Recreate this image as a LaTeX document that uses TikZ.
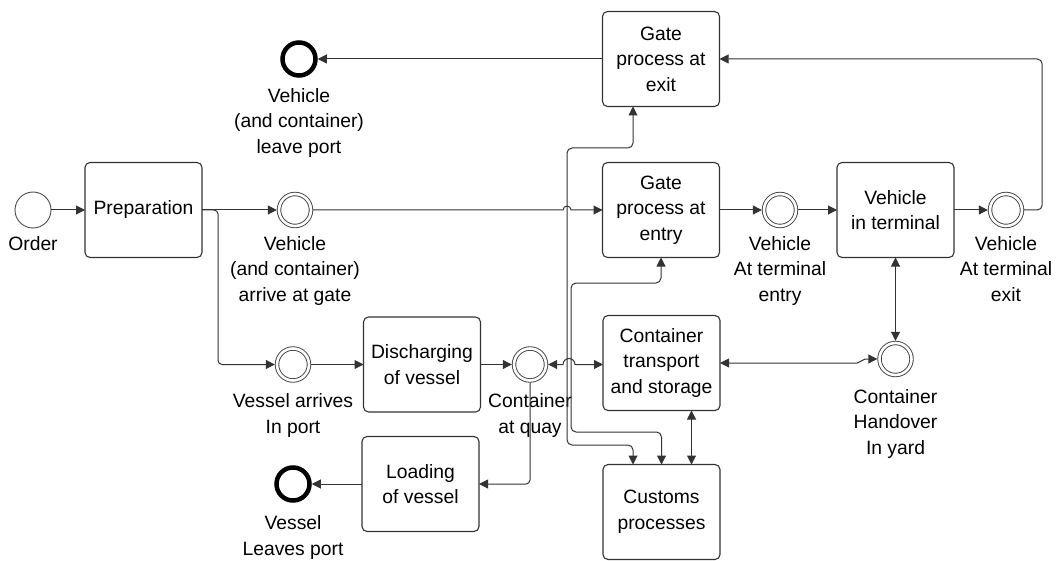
\documentclass[tikz,border=0pt]{standalone}
\usepackage{fontspec}
\setmainfont{Liberation Sans}
\usetikzlibrary{arrows.meta,calc}
\begin{document}
\begin{tikzpicture}[x=1pt,y=-1pt,
  txt/.style={font=\fontsize{19.3}{25.5}\selectfont, align=center, text=black},
  task/.style={txt, draw=black!80, line width=1.1pt, rounded corners=5pt, minimum width=117pt, minimum height=95pt, inner sep=0pt, outer sep=0pt},
  startev/.style={circle, draw=black!70, line width=0.9pt, minimum size=36pt, inner sep=0pt, outer sep=0.45pt},
  midev/.style={circle, draw=black!75, line width=0.9pt, double=white, double distance=2.6pt, minimum size=32pt, inner sep=0pt, outer sep=2.2pt},
  endev/.style={circle, draw=black, line width=4.5pt, minimum size=33pt, inner sep=0pt, outer sep=2.25pt},
  lbl/.style={txt, inner sep=0pt},
  tip/.tip={Triangle[length=9pt,width=9pt]},
  flow/.style={draw=black!80, line width=1pt, -tip},
  bflow/.style={draw=black!80, line width=1pt, tip-tip},
]
\useasboundingbox (0,0) rectangle (1056,561);

% tasks
\node[task] (prep)    at (143.5,210) {Preparation};
\node[task] (gexit)   at (661,59)    {Gate\\process at\\exit};
\node[task] (gentry)  at (661,210)   {Gate\\process at\\entry};
\node[task] (vterm)   at (895.5,210) {Vehicle\\in terminal};
\node[task] (disch)   at (422,364.5) {Discharging\\of vessel};
\node[task] (load)    at (420.5,484) {Loading\\of vessel};
\node[task] (trans)   at (661.5,363) {Container\\transport\\and storage};
\node[task] (customs) at (661.5,512) {Customs\\processes};

% events
\node[startev, label={[lbl,label distance=7.5pt]below:Order}] (order) at (33,210) {};
\node[midev, label={[lbl,label distance=7.8pt]below:Vehicle\\(and container)\\arrive at gate}] (veharr) at (295,210) {};
\node[midev, label={[lbl,label distance=10.8pt]below:Vessel arrives\\In port}] (vesarr) at (293,364.5) {};
\node[midev, label={[lbl,label distance=10.8pt]below:Container\\at quay}] (quay) at (530,364.5) {};
\node[midev, label={[lbl,label distance=7.8pt]below:Vehicle\\At terminal\\entry}] (ventry) at (780,210) {};
\node[midev, label={[lbl,label distance=7.8pt]below:Vehicle\\At terminal\\exit}] (vexit) at (1006,210) {};
\node[midev, label={[lbl,label distance=11.8pt]below:Container\\Handover\\In yard}] (handover) at (895.5,359) {};
\node[endev, label={[lbl,label distance=10.2pt]below:Vehicle\\(and container)\\leave port}] (vleave) at (299,59) {};
\node[endev, label={[lbl,label distance=13pt]below:Vessel\\Leaves port}] (vleaves) at (293,484) {};

% waypoints of the two long vertical connectors
\coordinate (tA) at (567,148);
\coordinate (bA) at (567,445);
\coordinate (tB) at (571,283);
\coordinate (bB) at (571,432);

% connectors
\draw[flow] (order) -- (prep);
\draw[flow] (prep.east) -- (veharr.west);
\draw[flow, rounded corners=4pt] (prep.east) -- ++(16,0) |- (vesarr.west);
\draw[flow] (veharr.east) -- ([xshift=-4pt]tA |- veharr.east) arc[start angle=180, end angle=360, radius=4] -- (gentry.west);
\draw[flow] (vesarr) -- (disch);
\draw[flow] (disch.east |- quay) -- (quay.west);
\draw[bflow] (quay.east) -- ([xshift=-4pt]tA |- quay.east) arc[start angle=180, end angle=360, radius=6] -- (trans.west |- quay.east);
\draw[flow, rounded corners=4pt] (quay.south) |- (load.east);
\draw[flow] (load.west) -- (vleaves.east);
\draw[flow] (gentry) -- (ventry);
\draw[flow] (ventry) -- (vterm);
\draw[flow] (vterm) -- (vexit);
\draw[flow, rounded corners=5pt] (vexit.east) -- ++(18,0) |- (gexit.east);
\draw[flow] (gexit.west) -- (vleave.east);
\draw[bflow] (vterm.south) -- (handover.north);
\draw[bflow] (trans.east) -- ([xshift=-20pt]handover.west |- trans.east) -- ([xshift=-12pt]handover.west) -- (handover.west);
\draw[bflow] ([xshift=30pt]trans.south) -- ([xshift=30pt]customs.north);
\draw[bflow, rounded corners=5pt] ([xshift=-28.5pt]customs.north) |- (bA) -- (tA) -| ([xshift=-28pt]gexit.south);
\draw[bflow, rounded corners=5pt] (customs.north) |- (bB) -- (tB) -| (gentry.south);
\end{tikzpicture}
\end{document}
